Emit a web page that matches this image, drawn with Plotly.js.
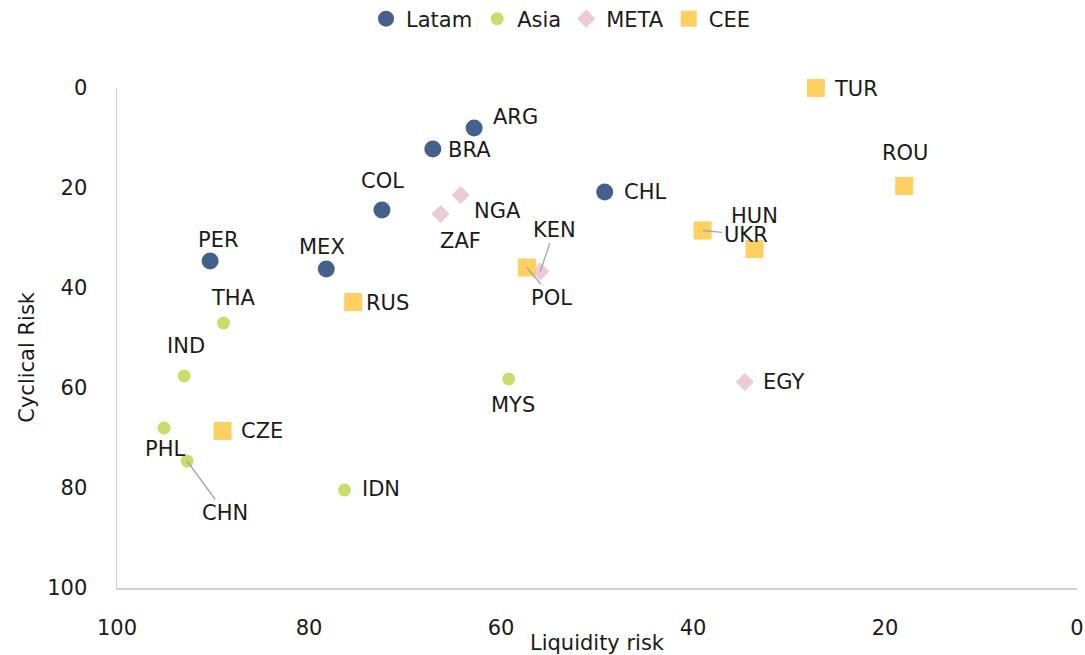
<!DOCTYPE html>
<html>
<head>
<meta charset="utf-8">
<script src="https://cdn.plot.ly/plotly-3.0.1.min.js"></script>
<style>html,body{margin:0;padding:0;background:#fff;}#chart{width:1085px;height:655px;}</style>
</head>
<body>
<div id="chart"></div>
<script>
// Data (x = Liquidity risk, y = Cyclical Risk)
const latamNames = ["ARG","BRA","COL","CHL","PER","MEX"];
const latamX = [62.8, 67.1, 72.4, 49.2, 90.3, 78.2];
const latamY = [8.0, 12.2, 24.4, 20.8, 34.6, 36.2];

const asiaNames = ["THA","IND","PHL","CHN","IDN","MYS"];
const asiaX = [88.9, 93.0, 95.1, 92.7, 76.3, 59.2];
const asiaY = [47.0, 57.6, 68.0, 74.6, 80.4, 58.2];

const metaNames = ["NGA","ZAF","KEN","EGY"];
const metaX = [64.2, 66.3, 55.9, 34.6];
const metaY = [21.4, 25.2, 36.7, 58.8];

const ceeNames = ["TUR","ROU","UKR","HUN","POL","RUS","CZE"];
const ceeX = [27.2, 18.0, 39.0, 33.6, 57.3, 75.4, 89.0];
const ceeY = [0.0, 19.6, 28.5, 32.2, 35.9, 42.8, 68.6];

const xTitle = "Liquidity risk";
const yTitle = "Cyclical Risk";

// label offsets in pixels (dx, dy) and whether a leader line is drawn
const labelOffsets = {
  ARG:[41,-11,0], BRA:[37,1,0], COL:[1,-29,0], CHL:[40,0,0], PER:[8,-21,0], MEX:[-4,-22,0],
  THA:[10,-25,0], IND:[2,-30,0], PHL:[1,21,0], CHN:[38,52,1], IDN:[36,-1,0], MYS:[4,26,0],
  NGA:[37,16,0], ZAF:[20,27,0], KEN:[14,-42,1], EGY:[39,0,0],
  TUR:[40,1,0], ROU:[1,-33,0], UKR:[43,4,1], HUN:[0,-33,0], POL:[25,30,1], RUS:[34,1,0], CZE:[39,0,0]
};

const FONT = "DejaVu Sans, sans-serif";
const TXT = "#1a1a1a";
const FS = 21;

const groups = [
  {name:"Latam", names:latamNames, x:latamX, y:latamY, symbol:"circle", size:17, color:"#44618b"},
  {name:"Asia", names:asiaNames, x:asiaX, y:asiaY, symbol:"circle", size:13, color:"#cadc6b"},
  {name:"META", names:metaNames, x:metaX, y:metaY, symbol:"diamond", size:14, color:"#ebcbd6"},
  {name:"CEE", names:ceeNames, x:ceeX, y:ceeY, symbol:"square", size:18, color:"#fed061"}
];

const traces = groups.map(g => ({
  type:"scatter", mode:"markers", name:g.name,
  x:g.x, y:g.y, text:g.names, hoverinfo:"text+x+y",
  marker:{symbol:g.symbol, size:g.size, color:g.color, line:{width:0}},
  cliponaxis:false
}));

const annotations = [];
groups.forEach(g => {
  g.names.forEach((n,i) => {
    const o = labelOffsets[n];
    annotations.push({
      x:g.x[i], y:g.y[i], xref:"x", yref:"y", text:n,
      showarrow:true, ax:o[0], ay:o[1], arrowhead:0, arrowwidth:1.3, standoff:0,
      arrowcolor: o[2] ? "#a6a6a6" : "rgba(0,0,0,0)",
      font:{family:FONT, size:FS, color:TXT}
    });
  });
});
// y-axis title (placed as annotation to match the reference's offset)
annotations.push({
  xref:"paper", yref:"paper", x:-0.094, y:0.462, xanchor:"center", yanchor:"middle",
  text:yTitle, textangle:-90, showarrow:false,
  font:{family:FONT, size:FS, color:TXT}
});

const layout = {
  width:1085, height:655,
  margin:{l:117, r:8, t:88, b:67, autoexpand:false},
  paper_bgcolor:"#fff", plot_bgcolor:"#fff",
  font:{family:FONT, size:FS, color:TXT},
  showlegend:true,
  legend:{orientation:"h", x:0.462, xanchor:"center", yref:"container", y:0.971, yanchor:"middle",
          font:{family:FONT, size:FS, color:TXT}, itemwidth:30, tracegroupgap:0},
  xaxis:{range:[100,0], autorange:false, tickvals:[100,80,60,40,20,0],
         showgrid:false, zeroline:false, showline:true, linecolor:"#d0d0d0", linewidth:1.5,
         ticks:"outside", ticklen:20, tickcolor:"rgba(0,0,0,0)",
         tickfont:{family:FONT, size:FS, color:TXT},
         title:{text:xTitle, font:{family:FONT, size:FS, color:TXT}, standoff:0}},
  yaxis:{range:[100,0], autorange:false, tickvals:[0,20,40,60,80,100],
         showgrid:false, zeroline:false, showline:true, linecolor:"#d0d0d0", linewidth:1.5,
         ticks:"outside", ticklen:24, tickcolor:"rgba(0,0,0,0)",
         tickfont:{family:FONT, size:FS, color:TXT}},
  annotations:annotations
};

Plotly.newPlot("chart", traces, layout, {displayModeBar:false, staticPlot:true});
</script>
</body>
</html>
